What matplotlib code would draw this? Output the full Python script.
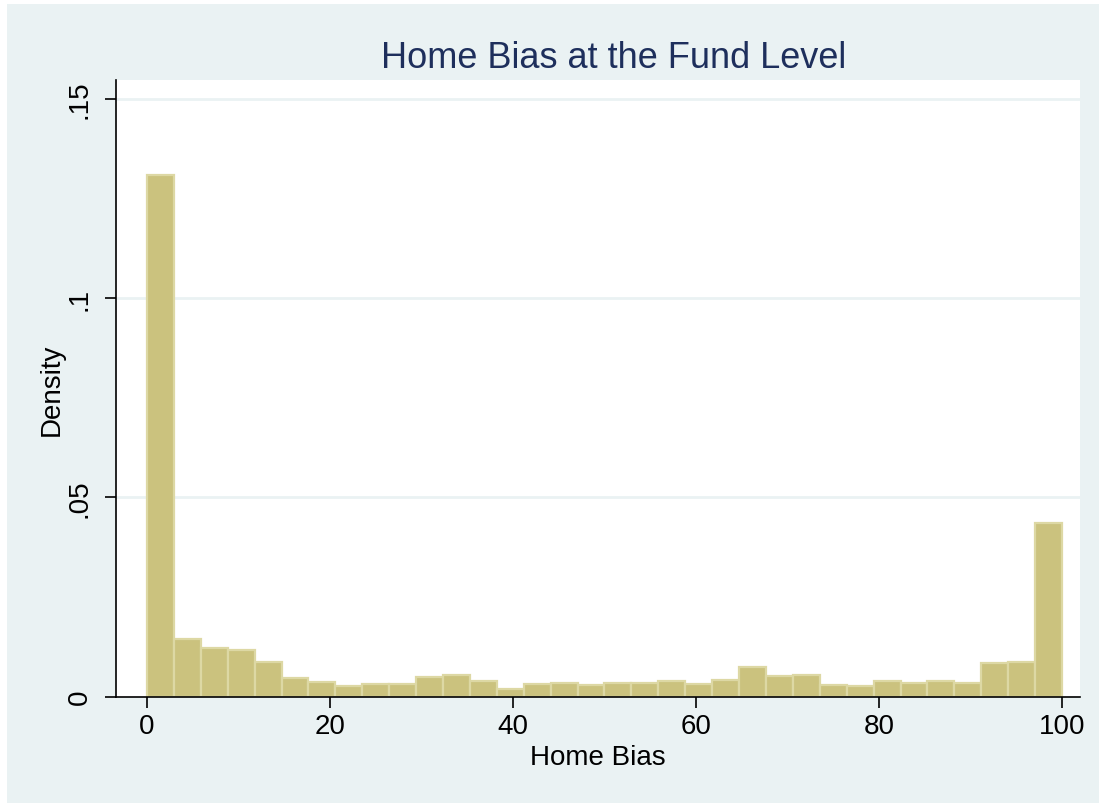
import numpy as np
import matplotlib
matplotlib.use("Agg")
import matplotlib.pyplot as plt
from matplotlib.patches import Rectangle

plt.rcParams['font.family'] = ['Liberation Sans', 'DejaVu Sans']

# --- Data: 34 equal-width bins from 0 to 100 ---
bin_edges = np.linspace(0, 100, 35)
density = [0.1310, 0.0144, 0.01215, 0.01165, 0.00864, 0.00477, 0.0036, 0.00276,
           0.0031, 0.0031, 0.0049, 0.00535, 0.00384, 0.0019, 0.0031, 0.0034,
           0.0029, 0.0035, 0.0035, 0.0040, 0.0031, 0.0043, 0.0075, 0.0053,
           0.0055, 0.0030, 0.0028, 0.0040, 0.0034, 0.0040, 0.0035, 0.0084,
           0.0087, 0.0435]
x_ticks = [0, 20, 40, 60, 80, 100]
y_ticks = [0, 0.05, 0.1, 0.15]
y_tick_labels = ["0", ".05", ".1", ".15"]

BG = "#EAF2F3"
BAR = "#CBC27E"
BAR_EDGE = "#DDD8A4"
TITLE = "#1E2F5C"

W, H = 1099, 804
fig = plt.figure(figsize=(W / 100, H / 100), dpi=100, facecolor="white")

# Stata-like graph region (light blue) with thin white margin top/left
fig.patches.append(Rectangle((7 / W, -0.01), 1.02 - 7 / W, 1.01 - 5 / H,
                             transform=fig.transFigure, facecolor=BG,
                             edgecolor="none", zorder=-10))

left, top, right, bottom = 116, 81, 1080, 697.7
ax = fig.add_axes([left / W, (H - bottom) / H, (right - left) / W, (bottom - top) / H])
ax.set_facecolor("white")

ax.bar(bin_edges[:-1], density, width=np.diff(bin_edges), align="edge",
       color=BAR, edgecolor=BAR_EDGE, linewidth=1.6, zorder=3)

ax.set_xlim(-3.39, 101.97)
ax.set_ylim(0, 0.15477)

ax.set_yticks(y_ticks)
ax.set_yticklabels(y_tick_labels, rotation=90, va="center")
ax.set_xticks(x_ticks)

for y in y_ticks[1:]:
    ax.axhline(y, color=BG, linewidth=2, zorder=1)

ax.tick_params(axis="both", direction="out", length=8, width=1.2,
               labelsize=20, colors="black")
ax.tick_params(axis="y", pad=9)
ax.tick_params(axis="x", pad=4)

for s in ["top", "right"]:
    ax.spines[s].set_visible(False)
for s in ["left", "bottom"]:
    ax.spines[s].set_linewidth(1.2)
    ax.spines[s].set_color("black")
    ax.spines[s].set_zorder(5)

ax.set_xlabel("Home Bias", fontsize=20, labelpad=3)
ax.set_ylabel("Density", fontsize=20, labelpad=1)
ax.set_title("Home Bias at the Fund Level", fontsize=26, color=TITLE,
             x=0.5165, pad=9)

fig.savefig("out.png", dpi=100, facecolor=fig.get_facecolor())
